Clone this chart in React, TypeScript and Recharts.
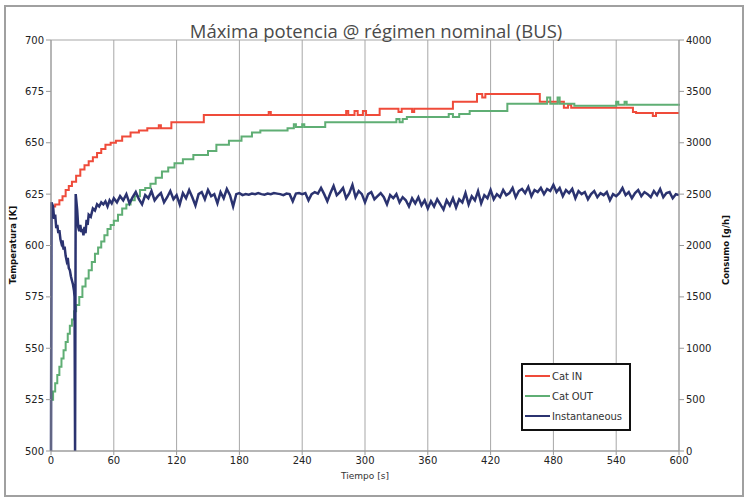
import React from "react";
import {
  LineChart,
  Line,
  XAxis,
  YAxis,
  CartesianGrid,
} from "recharts";

const TITULO = "Máxima potencia @ régimen nominal (BUS)";

const tiempoTicks = [0, 60, 120, 180, 240, 300, 360, 420, 480, 540, 600];
const temperaturaTicks = [500, 525, 550, 575, 600, 625, 650, 675, 700];
const consumoTicks = [0, 500, 1000, 1500, 2000, 2500, 3000, 3500, 4000];

// [tiempo s, temperatura K] — escalones del termopar
const catIn: [number, number][] = [
  [0, 619], [4, 620], [8, 622], [11, 624], [14, 627], [17, 629], [20, 631],
  [24, 634], [28, 637], [32, 639], [36, 641], [40, 643], [44, 645], [48, 647],
  [52, 649], [57, 650], [62, 651], [68, 653], [76, 655], [84, 656], [92, 657],
  [103, 658.5], [105, 657], [115, 660], [146, 663.5], [208, 665], [210, 663.5],
  [282, 665.5], [284, 663.5], [290, 665.5], [293, 663.5], [298, 665.5],
  [301, 663.5], [314, 666.5], [332, 665], [335, 666.5], [345, 665],
  [347, 666.5], [384, 670], [407, 673.7], [412, 672], [415, 673.7], [467, 670],
  [490, 667], [494, 668.5], [497, 667], [556, 665], [559, 664.5], [575, 663],
  [578, 664.5], [600, 664.5],
];

const catOut: [number, number][] = [
  [0, 525], [2, 529], [4, 533], [6, 537], [8, 541], [10, 545], [12, 549],
  [14, 553], [16, 557], [18, 561], [20, 564], [22, 568], [24, 571], [27, 575],
  [30, 580], [33, 584], [36, 588], [39, 592], [42, 596], [45, 599], [48, 602],
  [51, 605], [54, 608], [57, 610], [60, 612], [64, 615], [68, 618], [72, 620],
  [76, 622], [80, 624], [85, 627], [90, 628], [95, 630], [100, 633],
  [106, 636], [112, 638], [118, 640], [126, 642], [136, 644], [150, 646],
  [158, 649], [170, 651], [182, 653], [192, 655], [200, 656], [226, 657],
  [232, 659], [234, 657.7], [240, 659], [242, 657.7], [262, 660], [330, 661.5],
  [333, 660], [336, 661.5], [340, 662.5], [380, 664], [384, 662.5],
  [390, 664], [400, 665.5], [436, 669], [474, 672], [477, 669], [484, 672],
  [486, 669], [500, 668], [540, 670], [542, 668.5], [548, 670], [550, 668.5],
  [600, 668],
];

// [tiempo s, consumo g/h]
const instantaneo: [number, number][] = [
  [0, 0], [0.5, 2420], [2, 2380], [3, 2260], [4, 2300], [5, 2170], [6, 2200],
  [7, 2120], [8, 2150], [9, 2060], [10, 2020], [11, 2050], [12, 1960],
  [13, 1990], [14, 1900], [15, 1850], [16, 1880], [17, 1780], [18, 1760],
  [19, 1700], [20, 1660], [21, 1620], [22, 1560], [22.5, 1500], [23, 0],
  [23.6, 2500], [25, 2350], [26, 2180], [27, 2140], [28, 2200], [29, 2130],
  [30, 2160], [31, 2100], [32, 2180], [33, 2120], [34, 2250], [35, 2200],
  [36, 2300], [38, 2280], [40, 2360], [42, 2340], [44, 2400], [46, 2380],
  [48, 2420], [50, 2400], [52, 2430], [54, 2380], [56, 2440], [58, 2410],
  [60, 2460], [63, 2420], [66, 2480], [69, 2440], [72, 2500], [75, 2410],
  [78, 2470], [81, 2520], [84, 2450], [87, 2400], [90, 2490], [93, 2460],
  [96, 2530], [99, 2440], [102, 2480], [105, 2510], [108, 2420], [111, 2470],
  [114, 2530], [117, 2450], [120, 2490], [123, 2400], [126, 2510], [129, 2460],
  [132, 2540], [135, 2470], [138, 2390], [141, 2500], [144, 2520], [147, 2450],
  [150, 2540], [153, 2480], [156, 2500], [159, 2410], [162, 2520], [165, 2460],
  [168, 2550], [171, 2490], [174, 2380], [177, 2500], [180, 2510], [183, 2490],
  [186, 2500], [189, 2495], [192, 2505], [195, 2500], [198, 2510], [201, 2500],
  [204, 2495], [207, 2505], [210, 2500], [213, 2510], [216, 2505], [219, 2500],
  [222, 2490], [225, 2505], [228, 2500], [231, 2430], [234, 2505], [237, 2510],
  [240, 2500], [243, 2510], [246, 2440], [249, 2500], [252, 2520], [255, 2505],
  [258, 2560], [261, 2500], [264, 2430], [267, 2510], [270, 2580], [273, 2490],
  [276, 2520], [279, 2560], [282, 2460], [285, 2510], [288, 2590], [291, 2470],
  [294, 2530], [297, 2500], [300, 2420], [303, 2500], [306, 2520], [309, 2450],
  [312, 2480], [315, 2510], [318, 2470], [321, 2400], [324, 2490], [327, 2460],
  [330, 2500], [333, 2420], [336, 2470], [339, 2440], [342, 2380], [345, 2460],
  [348, 2410], [351, 2470], [354, 2390], [357, 2440], [360, 2360], [363, 2430],
  [366, 2380], [369, 2450], [372, 2400], [375, 2350], [378, 2440], [381, 2390],
  [384, 2460], [387, 2370], [390, 2450], [393, 2420], [396, 2510], [399, 2400],
  [402, 2480], [405, 2440], [408, 2530], [411, 2410], [414, 2490], [417, 2460],
  [420, 2540], [423, 2450], [426, 2500], [429, 2470], [432, 2540], [435, 2490],
  [438, 2510], [441, 2560], [444, 2470], [447, 2530], [450, 2550], [453, 2510],
  [456, 2570], [459, 2480], [462, 2540], [465, 2520], [468, 2560], [471, 2500],
  [474, 2550], [477, 2530], [480, 2590], [483, 2520], [486, 2560], [489, 2480],
  [492, 2540], [495, 2510], [498, 2550], [501, 2460], [504, 2530], [507, 2500],
  [510, 2520], [513, 2450], [516, 2500], [519, 2530], [522, 2470], [525, 2510],
  [528, 2490], [531, 2520], [534, 2440], [537, 2500], [540, 2480], [543, 2510],
  [546, 2560], [549, 2490], [552, 2520], [555, 2460], [558, 2510], [561, 2540],
  [564, 2480], [567, 2520], [570, 2500], [573, 2470], [576, 2530], [579, 2490],
  [582, 2550], [585, 2470], [588, 2510], [591, 2520], [594, 2460], [597, 2500],
  [600, 2490],
];

const SERIES = [
  { nombre: "Cat IN", color: "#ef4b3a" },
  { nombre: "Cat OUT", color: "#5fae74" },
  { nombre: "Instantaneous", color: "#2b3370" },
];

const aPuntos = (arr: [number, number][]) => arr.map(([t, v]) => ({ t, v }));

const FUENTE = "'DejaVu Sans', Verdana, sans-serif";
const tickStyle = { fontSize: 10, fill: "#222", fontFamily: FUENTE };

export default function App() {
  return (
    <div
      style={{
        position: "absolute",
        left: 0,
        top: 0,
        width: 745,
        height: 499,
        background: "#fff",
        fontFamily: FUENTE,
      }}
    >
      <div
        style={{
          position: "absolute",
          left: 4,
          top: 5,
          width: 736,
          height: 488,
          border: "2px solid #a0a0a0",
        }}
      />
      <LineChart
        width={745}
        height={499}
        margin={{ top: 40, right: 0, bottom: 18, left: 0 }}
      >
        <CartesianGrid stroke="#a7a7a7" strokeWidth={1} />
        <XAxis
          dataKey="t"
          type="number"
          domain={[0, 600]}
          ticks={tiempoTicks}
          height={30}
          tick={tickStyle}
          tickSize={4}
          stroke="#999"
          allowDuplicatedCategory={false}
        />
        <YAxis
          yAxisId="temp"
          domain={[500, 700]}
          ticks={temperaturaTicks}
          width={51}
          tick={tickStyle}
          tickSize={5}
          stroke="#999"
        />
        <YAxis
          yAxisId="cons"
          orientation="right"
          domain={[0, 4000]}
          ticks={consumoTicks}
          width={66}
          tick={tickStyle}
          tickSize={5}
          stroke="#999"
        />
        <Line
          yAxisId="temp"
          data={aPuntos(catIn)}
          dataKey="v"
          type="stepAfter"
          stroke={SERIES[0].color}
          strokeWidth={2}
          dot={false}
          isAnimationActive={false}
        />
        <Line
          yAxisId="temp"
          data={aPuntos(catOut)}
          dataKey="v"
          type="stepAfter"
          stroke={SERIES[1].color}
          strokeWidth={2}
          dot={false}
          isAnimationActive={false}
        />
        <Line
          yAxisId="cons"
          data={aPuntos(instantaneo)}
          dataKey="v"
          type="linear"
          stroke={SERIES[2].color}
          strokeWidth={2.5}
          dot={false}
          isAnimationActive={false}
        />
      </LineChart>

      <div
        style={{
          position: "absolute",
          left: 0,
          width: 745,
          top: 21,
          textAlign: "center",
          paddingLeft: 7,
          boxSizing: "border-box",
          fontSize: 18.5,
          fontFamily: "'Open Sans', sans-serif",
          color: "#4a4a4a",
          lineHeight: "20px",
        }}
      >
        {TITULO}
      </div>

      <div
        style={{
          position: "absolute",
          left: 13,
          top: 245,
          transform: "translate(-50%, -50%) rotate(-90deg)",
          fontSize: 8.5,
          fontWeight: "bold",
          color: "#111",
          whiteSpace: "nowrap",
        }}
      >
        Temperatura [K]
      </div>
      <div
        style={{
          position: "absolute",
          left: 726,
          top: 250,
          transform: "translate(-50%, -50%) rotate(-90deg)",
          fontSize: 8.5,
          fontWeight: "bold",
          color: "#111",
          whiteSpace: "nowrap",
        }}
      >
        Consumo [g/h]
      </div>
      <div
        style={{
          position: "absolute",
          left: 365,
          top: 476,
          transform: "translate(-50%, -50%)",
          fontSize: 9,
          color: "#333",
          whiteSpace: "nowrap",
        }}
      >
        Tiempo [s]
      </div>

      <div
        style={{
          position: "absolute",
          left: 521,
          top: 363,
          width: 106,
          height: 64,
          border: "2px solid #111",
          background: "#fff",
          boxSizing: "content-box",
        }}
      >
        {SERIES.map((s) => (
          <div
            key={s.nombre}
            style={{
              display: "flex",
              alignItems: "center",
              height: 20,
              marginTop: s.nombre === "Cat IN" ? 1 : 0,
              fontSize: 10,
              color: "#333",
              letterSpacing: -0.1,
            }}
          >
            <span
              style={{
                display: "inline-block",
                width: 25,
                height: 2,
                marginLeft: 2,
                marginRight: 2,
                background: s.color,
              }}
            />
            {s.nombre}
          </div>
        ))}
      </div>
    </div>
  );
}
